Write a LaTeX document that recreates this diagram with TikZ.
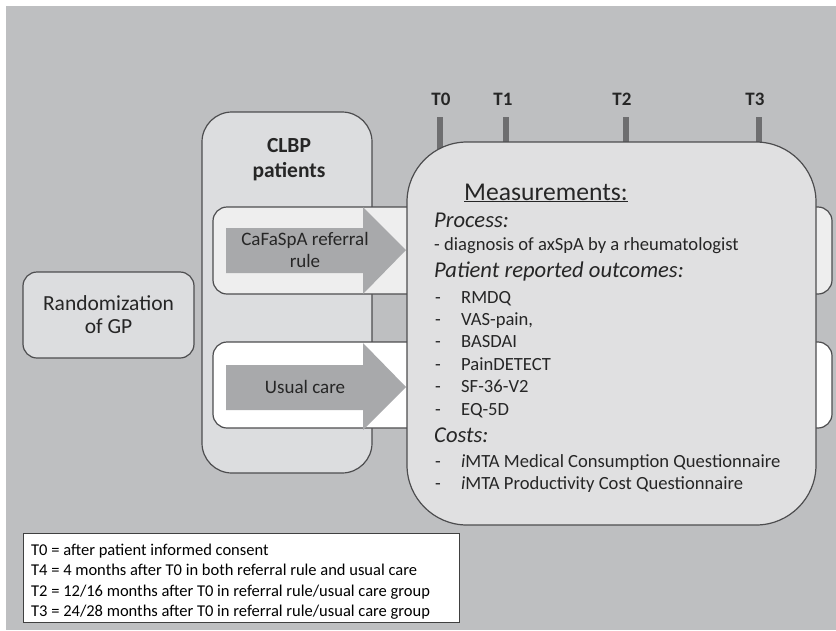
\documentclass[tikz,border=0pt]{standalone}
\usepackage{fontspec}
\setmainfont{Carlito}
\definecolor{bg}{HTML}{BEBFC1}
\definecolor{boxfill}{HTML}{DCDDDF}
\definecolor{rowfill}{HTML}{EEEEEE}
\definecolor{arrowfill}{HTML}{A8A9AB}
\definecolor{edgec}{HTML}{4D4D4F}
\definecolor{tickc}{HTML}{6E6E70}
\definecolor{txt}{HTML}{262626}
\definecolor{measfill}{HTML}{E0E0E1}
\begin{document}
\begin{tikzpicture}[x=1pt,y=-1pt,
  rbox/.style={draw=edgec, line width=1.2pt, inner sep=0pt},
  tickline/.style={draw=tickc, line width=6.5pt},
  arrowshape/.style={fill=arrowfill, draw=none},
  lbl/.style={text=txt, inner sep=0pt},
  tlabel/.style={lbl, font=\fontsize{19}{21}\selectfont\bfseries, anchor=base},
  mtext/.style={lbl, anchor=base west, font=\fontsize{18.6}{20}\selectfont},
  mhead/.style={lbl, anchor=base west, font=\fontsize{22.6}{24}\selectfont\itshape},
  legtext/.style={lbl, anchor=base west, font=\fontsize{16.5}{18}\selectfont, text=black}
]
\useasboundingbox (0,0) rectangle (836,630);
\fill[white] (0,0) rectangle (836,630);
\fill[bg] (6,6) rectangle (836,630);

% time ticks
\coordinate (t0a) at (440,117); \coordinate (t0b) at (440,170);
\coordinate (t1a) at (506,117); \coordinate (t1b) at (506,170);
\coordinate (t2a) at (626,117); \coordinate (t2b) at (626,170);
\coordinate (t3a) at (759,117); \coordinate (t3b) at (759,170);
\draw[tickline] (t0a) -- (t0b);
\draw[tickline] (t1a) -- (t1b);
\draw[tickline] (t2a) -- (t2b);
\draw[tickline] (t3a) -- (t3b);
\node[tlabel] (T0) at (441,105) {T0};
\node[tlabel] (T1) at (503,105) {T1};
\node[tlabel] (T2) at (622,105) {T2};
\node[tlabel] (T3) at (755,105) {T3};

% randomization
\node[rbox, fill=boxfill, rounded corners=14pt, minimum width=171pt, minimum height=86pt] (rand) at (108.5,315) {};
\node[lbl, anchor=base, font=\fontsize{21.5}{23}\selectfont] (randA) at (108.5,310) {Randomization};
\node[lbl, anchor=base, font=\fontsize{21.5}{23}\selectfont] (randB) at (108.5,333) {of GP};

% CLBP column
\node[rbox, fill=boxfill, rounded corners=30pt, minimum width=170pt, minimum height=361pt] (clbp) at (287,292.5) {};
\node[lbl, anchor=base, font=\fontsize{21.5}{23}\selectfont\bfseries] (clbpA) at (289,152) {CLBP};
\node[lbl, anchor=base, font=\fontsize{21.5}{23}\selectfont\bfseries] (clbpB) at (289,177) {patients};

% rows
\node[rbox, fill=rowfill, rounded corners=14pt, minimum width=619pt, minimum height=87pt] (rowA) at (522.5,250.5) {};
\node[rbox, fill=white, rounded corners=14pt, minimum width=619pt, minimum height=86pt] (rowB) at (522.5,385) {};

% arrows
\path[arrowshape] (226,228) -- (363,228) -- (363,207) -- (406,250) -- (363,294) -- (363,273) -- (226,273) -- cycle;
\path[arrowshape] (226,365) -- (363,365) -- (363,343) -- (406,387) -- (363,430) -- (363,410) -- (226,410) -- cycle;
\node[lbl, anchor=base, font=\fontsize{19}{21}\selectfont] (arrA1) at (305,245) {CaFaSpA referral};
\node[lbl, anchor=base, font=\fontsize{19}{21}\selectfont] (arrA2) at (305,267) {rule};
\node[lbl, anchor=base, font=\fontsize{19}{21}\selectfont] (arrB) at (305,393) {Usual care};

% measurements
\node[rbox, fill=measfill, rounded corners=60pt, minimum width=409pt, minimum height=383pt] (meas) at (611.5,333.5) {};
\node[lbl, anchor=base west, font=\fontsize{25.6}{27}\selectfont] (mtitle) at (464,200) {\underline{Measurements:}};
\node[mhead] (proc) at (434,227) {Process:};
\node[mtext] (diag) at (434,250) {- diagnosis of axSpA by a rheumatologist};
\node[mhead] (pro) at (434,277) {Patient reported outcomes:};
\foreach \y/\t [count=\i] in {303/RMDQ,325/{VAS-pain,},347/BASDAI,370/PainDETECT,392/SF-36-V2,415/EQ-5D}{
  \node[mtext] (d\i) at (435,\y) {-};
  \node[mtext] (it\i) at (461,\y) {\t};
}
\node[mhead] (costs) at (434,442) {Costs:};
\node[mtext] (c1d) at (435,467) {-};
\node[mtext] (c1) at (461,467) {\textit{i}MTA Medical Consumption Questionnaire};
\node[mtext] (c2d) at (435,489) {-};
\node[mtext] (c2) at (461,489) {\textit{i}MTA Productivity Cost Questionnaire};

% legend
\node[draw=black!75, line width=0.9pt, fill=white, anchor=north west, minimum width=436pt, minimum height=89pt, inner sep=0pt] (legend) at (23,533) {};
\node[legtext] (l1) at (31,555) {T0 = after patient informed consent};
\node[legtext] (l2) at (31,575.5) {T4 = 4 months after T0 in both referral rule and usual care};
\node[legtext] (l3) at (31,596) {T2 = 12/16 months after T0 in referral rule/usual care group};
\node[legtext] (l4) at (31,616) {T3 = 24/28 months after T0 in referral rule/usual care group};
\end{tikzpicture}
\end{document}
